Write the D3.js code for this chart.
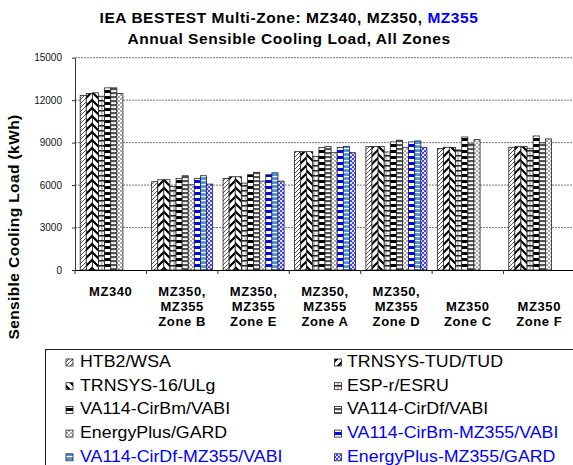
<!DOCTYPE html>
<html><head><meta charset="utf-8">
<script src="https://cdn.jsdelivr.net/npm/d3@7"></script>
<style>
html,body{margin:0;padding:0;background:#fff;overflow:hidden;}
svg{display:block;font-family:"Liberation Sans",Arial,sans-serif;}
</style></head>
<body><svg id="c" width="573" height="465"></svg>
<script>
// ---- data ----
const categories = [
  ["MZ340"],
  ["MZ350,","MZ355","Zone B"],
  ["MZ350,","MZ355","Zone E"],
  ["MZ350,","MZ355","Zone A"],
  ["MZ350,","MZ355","Zone D"],
  ["MZ350","Zone C"],
  ["MZ350","Zone F"]
];
const seriesNames = [
  "HTB2/WSA","TRNSYS-TUD/TUD","TRNSYS-16/ULg","ESP-r/ESRU",
  "VA114-CirBm/VABI","VA114-CirDf/VABI","EnergyPlus/GARD",
  "VA114-CirBm-MZ355/VABI","VA114-CirDf-MZ355/VABI","EnergyPlus-MZ355/GARD"
];
const htb2     = [12330, 6240, 6470, 8360, 8720, 8580, 8670];
const trnsysTud= [12470, 6380, 6590, 8360, 8720, 8670, 8720];
const trnsys16 = [12520, 6380, 6590, 8360, 8720, 8670, 8720];
const espr     = [12280, 5910, 6140, 8030, 8340, 8480, 8600];
const cirBm    = [12870, 6470, 6730, 8650, 9050, 9400, 9470];
const cirDf    = [12870, 6660, 6900, 8720, 9170, 8910, 8980];
const eplus    = [12470, 6020, 6280, 8290, 8670, 9210, 9260];
const cirBm355 = [null, 6470, 6730, 8650, 9050, null, null];
const cirDf355 = [null, 6660, 6870, 8720, 9120, null, null];
const eplus355 = [null, 6070, 6280, 8290, 8670, null, null];
const seriesValues = [htb2,trnsysTud,trnsys16,espr,cirBm,cirDf,eplus,cirBm355,cirDf355,eplus355];
const yTicks = [0,3000,6000,9000,12000,15000];

// ---- setup ----
const svg = d3.select("#c");
const defs = svg.append("defs");
function pat(id,w,h,bg,draw){
  const p = defs.append("pattern").attr("id",id).attr("patternUnits","userSpaceOnUse")
    .attr("width",w).attr("height",h);
  p.append("rect").attr("width",w).attr("height",h).attr("fill",bg);
  draw(p);
}
pat("p0",4,4,"#fff",p=>{p.append("path").attr("d","M-1,1 L1,-1 M0,4 L4,0 M3,5 L5,3").attr("stroke","#444").attr("stroke-width",0.9);});
pat("p1",8,8,"#fff",p=>{p.append("path").attr("d","M-2,2 L2,-2 M0,8 L8,0 M6,10 L10,6").attr("stroke","#000").attr("stroke-width",2.2);});
pat("p2",8,8,"#fff",p=>{p.append("path").attr("d","M-2,6 L2,10 M0,0 L8,8 M6,-2 L10,2").attr("stroke","#000").attr("stroke-width",2.2);});
pat("p3",4,5,"#fff",p=>{
  p.append("rect").attr("x",0).attr("y",0).attr("width",4).attr("height",1.6).attr("fill","#222");
  p.append("rect").attr("x",1.5).attr("y",1.6).attr("width",1).attr("height",3.4).attr("fill","#888");
});
pat("p4",6,6,"#fff",p=>{p.append("rect").attr("y",0).attr("width",6).attr("height",3).attr("fill","#000");});
pat("p5",4,4,"#fff",p=>{p.append("rect").attr("y",0).attr("width",4).attr("height",2.2).attr("fill","#555");});
pat("p6",4,4,"#aaa",p=>{
  p.append("rect").attr("x",0).attr("y",0).attr("width",2).attr("height",2).attr("fill","#fff");
  p.append("rect").attr("x",2).attr("y",2).attr("width",2).attr("height",2).attr("fill","#fff");
});
pat("p7",6,6,"#fff",p=>{p.append("rect").attr("y",0).attr("width",6).attr("height",3).attr("fill","#0000ff");});
pat("p8",4,4,"#4f95dc",p=>{p.append("rect").attr("y",0).attr("width",4).attr("height",1.1).attr("fill","#fff");});
pat("p9",4,4,"#4545ff",p=>{
  p.append("rect").attr("x",0).attr("y",0).attr("width",2).attr("height",2).attr("fill","#e0e0ff");
  p.append("rect").attr("x",2).attr("y",2).attr("width",2).attr("height",2).attr("fill","#e0e0ff");
});
const fills = d3.range(10).map(i=>`url(#p${i})`);

const x0 = 75, x1 = 575, yTop = 57.7, yBot = 270;
const xg = d3.scaleBand().domain(d3.range(categories.length)).range([x0,x1]).paddingInner(0).paddingOuter(0);
const xs = d3.scaleBand().domain(d3.range(seriesNames.length)).range([5.2, xg.bandwidth()-5.2]);
const y = d3.scaleLinear().domain([0,15000]).range([yBot,yTop]);

// gridlines
svg.append("g").selectAll("line").data(yTicks.filter(d=>d>0)).join("line")
  .attr("x1",x0).attr("x2",573).attr("y1",d=>y(d)).attr("y2",d=>y(d))
  .attr("stroke","#777").attr("stroke-width",1).attr("stroke-dasharray","2,1");

// bars
const g = svg.append("g");
seriesValues.forEach((vals,si)=>{
  g.append("g").selectAll("rect").data(vals.map((v,ci)=>({v,ci})).filter(d=>d.v!=null)).join("rect")
    .attr("x",d=>xg(d.ci)+xs(si)).attr("width",xs.bandwidth())
    .attr("y",d=>y(d.v)).attr("height",d=>yBot-y(d.v))
    .attr("fill",fills[si]).attr("stroke","#222").attr("stroke-width",0.8);
});

// y axis
const ya = svg.append("g").attr("transform",`translate(${x0},0)`)
  .call(d3.axisLeft(y).tickValues(yTicks).tickFormat(d3.format("d")).tickSize(3).tickPadding(10).tickSizeOuter(0));
ya.select(".domain").attr("stroke","#333");
ya.selectAll(".tick line").attr("stroke","#333");
ya.selectAll("text").attr("font-size","10px").attr("fill","#111").attr("font-family","Liberation Sans, Arial, sans-serif");

// x axis
svg.append("line").attr("x1",x0).attr("x2",573).attr("y1",yBot+0.5).attr("y2",yBot+0.5).attr("stroke","#000").attr("stroke-width",1.2);
svg.append("g").selectAll("line").data(d3.range(categories.length)).join("line")
  .attr("x1",d=>xg(d)).attr("x2",d=>xg(d)).attr("y1",yBot).attr("y2",yBot+4)
  .attr("stroke","#333").attr("stroke-width",1);

// x labels
const xl = svg.append("g");
categories.forEach((lines,ci)=>{
  const cx = xg(ci)+xg.bandwidth()/2;
  const start = lines.length===2 ? 311 : 296;
  lines.forEach((t,li)=>{
    xl.append("text").attr("x",cx).attr("y",start+li*15).attr("text-anchor","middle")
      .attr("font-size","13px").attr("font-weight","bold").attr("letter-spacing","0.6px")
      .attr("fill","#000").text(t);
  });
});

// title
const t1 = svg.append("text").attr("x",289).attr("y",23).attr("text-anchor","middle")
  .attr("font-size","15.5px").attr("font-weight","bold").attr("letter-spacing","0.55px").attr("fill","#000");
t1.append("tspan").text("IEA BESTEST Multi-Zone: MZ340, MZ350, ");
t1.append("tspan").attr("fill","#0000ff").text("MZ355");
svg.append("text").attr("x",289).attr("y",43.5).attr("text-anchor","middle")
  .attr("font-size","15.5px").attr("font-weight","bold").attr("letter-spacing","0.55px").attr("fill","#000")
  .text("Annual Sensible Cooling Load, All Zones");

// y label
svg.append("text").attr("transform","translate(19,227) rotate(-90)").attr("text-anchor","middle")
  .attr("font-size","15.5px").attr("font-weight","bold").attr("letter-spacing","0.4px").attr("fill","#000")
  .text("Sensible Cooling Load (kWh)");

// legend
svg.append("rect").attr("x",45.5).attr("y",349.5).attr("width",560).attr("height",140)
  .attr("fill","#fff").attr("stroke","#222").attr("stroke-width",1);
const lg = svg.append("g");
seriesNames.forEach((name,i)=>{
  const col = i%2, row = Math.floor(i/2);
  const ix = col===0 ? 66 : 334.5, tx = col===0 ? 80 : 347;
  const by = 367 + row*23.7;
  lg.append("rect").attr("x",ix).attr("y",by-8).attr("width",7).attr("height",7)
    .attr("fill",fills[i]).attr("stroke","#222").attr("stroke-width",0.8);
  lg.append("text").attr("transform",`translate(${tx},${by}) scale(1.14,1)`).attr("font-size","15.6px")
    .attr("fill", i>=7 ? "#0000ff" : "#000").text(name);
});
</script></body></html>
